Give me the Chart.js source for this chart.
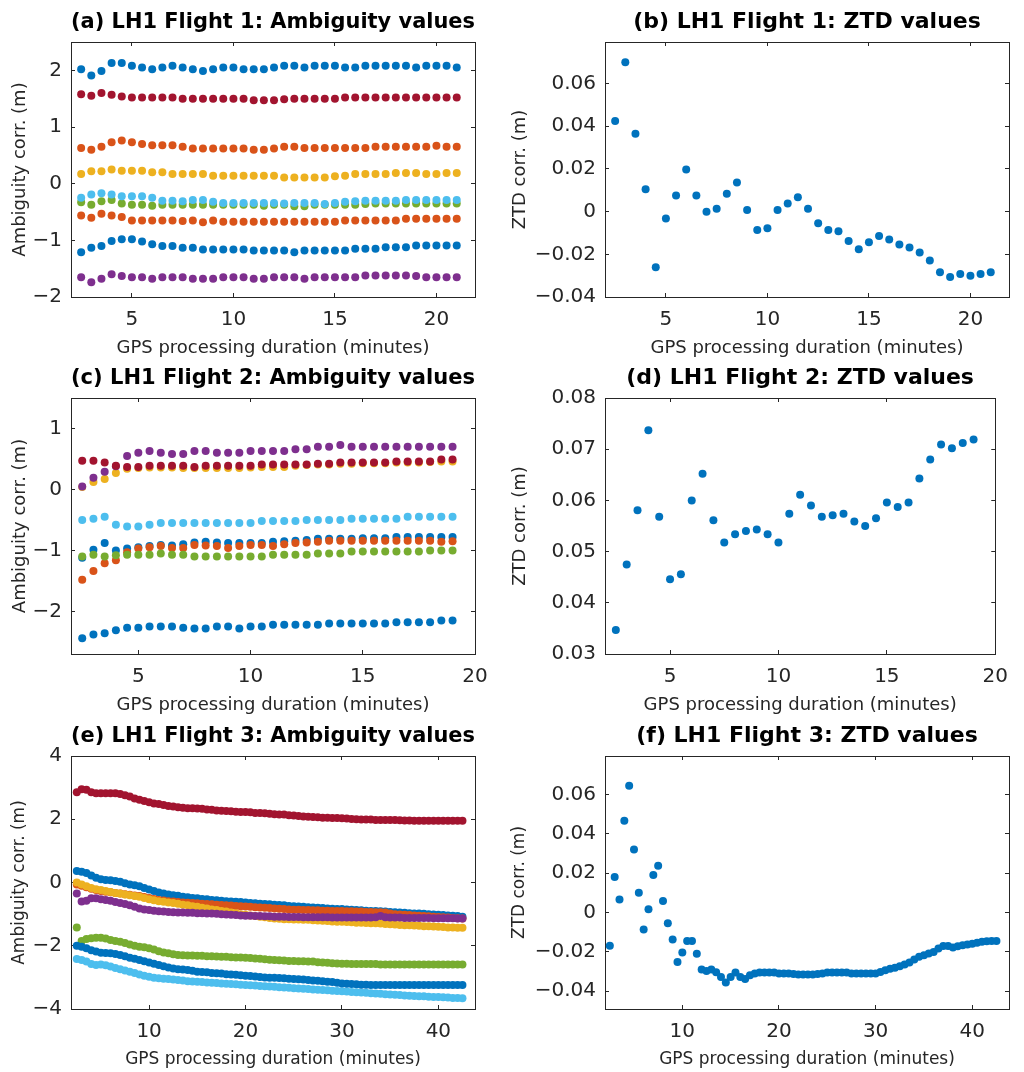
<!DOCTYPE html>
<html>
<head>
<meta charset="utf-8">
<script src="https://cdn.jsdelivr.net/npm/chart.js@4.4.1/dist/chart.umd.min.js"></script>
<style>
  body { margin: 0; background: #fff; }
  #page { position: relative; width: 1024px; height: 1072px; overflow: hidden; background: #fff; }
  #page canvas { position: absolute; }
</style>
</head>
<body>
<div id="page"></div>
<script>
// processing durations (minutes)
const minutesF1 = [2.5, 3, 3.5, 4, 4.5, 5, 5.5, 6, 6.5, 7, 7.5, 8, 8.5, 9, 9.5, 10, 10.5, 11, 11.5, 12,
  12.5, 13, 13.5, 14, 14.5, 15, 15.5, 16, 16.5, 17, 17.5, 18, 18.5, 19, 19.5, 20, 20.5, 21];
const minutesF2 = [2.5, 3, 3.5, 4, 4.5, 5, 5.5, 6, 6.5, 7, 7.5, 8, 8.5, 9, 9.5, 10, 10.5, 11, 11.5, 12,
  12.5, 13, 13.5, 14, 14.5, 15, 15.5, 16, 16.5, 17, 17.5, 18, 18.5, 19];
const minutesF3 = [2.5, 3, 3.5, 4, 4.5, 5, 5.5, 6, 6.5, 7,
  7.5, 8, 8.5, 9, 9.5, 10, 10.5, 11, 11.5, 12,
  12.5, 13, 13.5, 14, 14.5, 15, 15.5, 16, 16.5, 17,
  17.5, 18, 18.5, 19, 19.5, 20, 20.5, 21, 21.5, 22,
  22.5, 23, 23.5, 24, 24.5, 25, 25.5, 26, 26.5, 27,
  27.5, 28, 28.5, 29, 29.5, 30, 30.5, 31, 31.5, 32,
  32.5, 33, 33.5, 34, 34.5, 35, 35.5, 36, 36.5, 37,
  37.5, 38, 38.5, 39, 39.5, 40, 40.5, 41, 41.5, 42,
  42.5];

// (a) flight 1 ambiguities
const ambA1 = [2.02, 1.91, 1.99, 2.13, 2.13, 2.08, 2.05, 2.02, 2.05, 2.08,
  2.05, 2.02, 1.99, 2.02, 2.05, 2.05, 2.02, 2.02, 2.02, 2.05,
  2.08, 2.08, 2.05, 2.08, 2.08, 2.08, 2.05, 2.05, 2.08, 2.08,
  2.08, 2.08, 2.08, 2.05, 2.08, 2.08, 2.08, 2.05];
const ambA2 = [0.63, 0.60, 0.65, 0.73, 0.76, 0.73, 0.70, 0.68, 0.68, 0.68,
  0.65, 0.62, 0.62, 0.62, 0.62, 0.62, 0.62, 0.60, 0.60, 0.62,
  0.65, 0.65, 0.63, 0.63, 0.63, 0.63, 0.63, 0.63, 0.63, 0.65,
  0.65, 0.65, 0.65, 0.65, 0.65, 0.67, 0.65, 0.65];
const ambA3 = [0.17, 0.22, 0.22, 0.25, 0.23, 0.23, 0.23, 0.20, 0.20, 0.17,
  0.17, 0.17, 0.17, 0.14, 0.14, 0.14, 0.14, 0.14, 0.14, 0.14,
  0.11, 0.11, 0.11, 0.11, 0.11, 0.13, 0.14, 0.17, 0.17, 0.17,
  0.17, 0.19, 0.19, 0.19, 0.17, 0.17, 0.19, 0.19];
const ambA4 = [-1.65, -1.74, -1.68, -1.60, -1.63, -1.65, -1.65, -1.68, -1.65, -1.65,
  -1.65, -1.68, -1.68, -1.68, -1.65, -1.65, -1.65, -1.68, -1.68, -1.65,
  -1.65, -1.65, -1.68, -1.65, -1.65, -1.65, -1.65, -1.65, -1.62, -1.62,
  -1.62, -1.62, -1.62, -1.63, -1.65, -1.65, -1.65, -1.65];
const ambA5 = [-0.33, -0.37, -0.31, -0.29, -0.35, -0.37, -0.37, -0.39, -0.37, -0.37,
  -0.37, -0.37, -0.37, -0.37, -0.37, -0.37, -0.37, -0.37, -0.39, -0.37,
  -0.37, -0.40, -0.40, -0.37, -0.37, -0.37, -0.37, -0.37, -0.36, -0.35,
  -0.35, -0.35, -0.35, -0.35, -0.35, -0.35, -0.35, -0.35];
const ambA6 = [-0.25, -0.19, -0.17, -0.19, -0.22, -0.22, -0.22, -0.25, -0.30, -0.30,
  -0.31, -0.29, -0.29, -0.32, -0.34, -0.34, -0.34, -0.34, -0.34, -0.34,
  -0.35, -0.34, -0.34, -0.34, -0.36, -0.34, -0.32, -0.31, -0.30, -0.30,
  -0.30, -0.30, -0.29, -0.29, -0.29, -0.29, -0.29, -0.29];
const ambA7 = [1.58, 1.55, 1.60, 1.57, 1.54, 1.52, 1.52, 1.52, 1.52, 1.52,
  1.50, 1.50, 1.50, 1.50, 1.50, 1.50, 1.50, 1.47, 1.47, 1.47,
  1.49, 1.50, 1.50, 1.50, 1.50, 1.50, 1.52, 1.52, 1.52, 1.52,
  1.52, 1.52, 1.52, 1.52, 1.52, 1.52, 1.52, 1.52];
const ambA8 = [-1.21, -1.13, -1.10, -1.01, -0.98, -0.98, -1.02, -1.07, -1.10, -1.10,
  -1.13, -1.13, -1.16, -1.16, -1.16, -1.16, -1.16, -1.18, -1.18, -1.18,
  -1.18, -1.21, -1.18, -1.18, -1.18, -1.18, -1.18, -1.15, -1.15, -1.15,
  -1.12, -1.12, -1.12, -1.09, -1.09, -1.09, -1.09, -1.09];
const ambA9 = [-0.56, -0.60, -0.53, -0.56, -0.59, -0.65, -0.65, -0.65, -0.65, -0.65,
  -0.66, -0.65, -0.68, -0.65, -0.67, -0.67, -0.67, -0.67, -0.67, -0.67,
  -0.67, -0.67, -0.67, -0.67, -0.67, -0.67, -0.65, -0.65, -0.65, -0.65,
  -0.65, -0.65, -0.62, -0.62, -0.62, -0.62, -0.62, -0.62];

// (b) flight 1 ZTD
const ztdB = [0.0425, 0.0700, 0.0365, 0.0105, -0.0260, -0.0032, 0.0076, 0.0197, 0.0076, 0.0000,
  0.0014, 0.0084, 0.0137, 0.0008, -0.0086, -0.0078, 0.0008, 0.0038, 0.0068, 0.0014,
  -0.0054, -0.0086, -0.0092, -0.0137, -0.0176, -0.0144, -0.0114, -0.0130, -0.0154, -0.0168,
  -0.0192, -0.0229, -0.0284, -0.0306, -0.0292, -0.0300, -0.0292, -0.0284];

// (c) flight 2 ambiguities
const ambC1 = [-1.12, -0.99, -0.88, -1.00, -0.97, -0.95, -0.93, -0.91, -0.92, -0.90,
  -0.87, -0.86, -0.87, -0.88, -0.88, -0.88, -0.88, -0.86, -0.85, -0.84,
  -0.83, -0.81, -0.81, -0.81, -0.81, -0.80, -0.80, -0.80, -0.78, -0.78,
  -0.78, -0.78, -0.78, -0.78];
const ambC2 = [-1.48, -1.34, -1.21, -1.16, -1.03, -0.97, -0.95, -0.93, -0.96, -0.96,
  -0.91, -0.92, -0.93, -0.96, -0.93, -0.91, -0.91, -0.93, -0.90, -0.88,
  -0.87, -0.86, -0.84, -0.84, -0.84, -0.84, -0.84, -0.84, -0.84, -0.84,
  -0.84, -0.84, -0.86, -0.85];
const ambC3 = [0.04, 0.12, 0.17, 0.27, 0.34, 0.35, 0.36, 0.36, 0.36, 0.35,
  0.35, 0.35, 0.35, 0.35, 0.35, 0.36, 0.37, 0.37, 0.37, 0.39,
  0.40, 0.41, 0.41, 0.42, 0.42, 0.43, 0.43, 0.43, 0.44, 0.44,
  0.44, 0.45, 0.46, 0.46];
const ambC4 = [0.05, 0.19, 0.29, 0.38, 0.55, 0.60, 0.63, 0.60, 0.58, 0.58,
  0.63, 0.63, 0.60, 0.60, 0.60, 0.63, 0.63, 0.63, 0.63, 0.66,
  0.66, 0.70, 0.70, 0.73, 0.70, 0.70, 0.70, 0.70, 0.70, 0.70,
  0.70, 0.70, 0.70, 0.70];
const ambC5 = [-1.10, -1.07, -1.10, -1.08, -1.07, -1.07, -1.07, -1.05, -1.07, -1.07,
  -1.10, -1.10, -1.10, -1.10, -1.10, -1.10, -1.10, -1.07, -1.07, -1.07,
  -1.07, -1.05, -1.05, -1.05, -1.02, -1.02, -1.02, -1.02, -1.02, -1.02,
  -1.02, -1.00, -1.00, -1.00];
const ambC6 = [-0.50, -0.48, -0.45, -0.58, -0.61, -0.61, -0.58, -0.55, -0.55, -0.55,
  -0.55, -0.55, -0.55, -0.55, -0.55, -0.55, -0.52, -0.52, -0.52, -0.52,
  -0.50, -0.50, -0.50, -0.50, -0.48, -0.48, -0.48, -0.48, -0.48, -0.45,
  -0.45, -0.45, -0.45, -0.45];
const ambC7 = [0.47, 0.47, 0.44, 0.39, 0.37, 0.37, 0.39, 0.39, 0.39, 0.39,
  0.37, 0.39, 0.39, 0.39, 0.39, 0.39, 0.41, 0.41, 0.41, 0.41,
  0.41, 0.42, 0.42, 0.44, 0.44, 0.44, 0.44, 0.44, 0.46, 0.46,
  0.46, 0.46, 0.49, 0.49];
const ambC8 = [-2.44, -2.38, -2.36, -2.31, -2.27, -2.27, -2.25, -2.25, -2.25, -2.27,
  -2.28, -2.28, -2.25, -2.25, -2.28, -2.25, -2.25, -2.22, -2.22, -2.22,
  -2.22, -2.22, -2.20, -2.20, -2.20, -2.20, -2.20, -2.20, -2.18, -2.18,
  -2.18, -2.18, -2.15, -2.15];

// (d) flight 2 ZTD
const ztdD = [0.0347, 0.0475, 0.0581, 0.0737, 0.0568, 0.0446, 0.0456, 0.0600, 0.0652, 0.0561,
  0.0518, 0.0534, 0.0540, 0.0543, 0.0534, 0.0518, 0.0574, 0.0611, 0.0590, 0.0568,
  0.0571, 0.0574, 0.0559, 0.0550, 0.0565, 0.0596, 0.0587, 0.0596, 0.0643, 0.0680,
  0.0709, 0.0702, 0.0712, 0.0719];

// (e) flight 3 ambiguities
const ambE1 = [0.36, 0.34, 0.30, 0.22, 0.15, 0.10, 0.08, 0.07, 0.05, 0.02,
  -0.02, -0.06, -0.09, -0.12, -0.17, -0.22, -0.27, -0.32, -0.35, -0.38,
  -0.40, -0.42, -0.45, -0.47, -0.49, -0.50, -0.52, -0.53, -0.55, -0.56,
  -0.58, -0.59, -0.60, -0.61, -0.62, -0.63, -0.65, -0.66, -0.67, -0.68,
  -0.69, -0.70, -0.71, -0.72, -0.74, -0.75, -0.76, -0.77, -0.78, -0.79,
  -0.80, -0.81, -0.82, -0.83, -0.84, -0.84, -0.85, -0.86, -0.87, -0.88,
  -0.89, -0.90, -0.90, -0.91, -0.92, -0.93, -0.94, -0.95, -0.96, -0.97,
  -0.98, -0.98, -0.99, -1.00, -1.01, -1.02, -1.03, -1.04, -1.05, -1.06,
  -1.08];
const ambE2 = [-0.06, -0.10, -0.15, -0.20, -0.24, -0.27, -0.29, -0.31, -0.33, -0.35,
  -0.37, -0.39, -0.41, -0.43, -0.46, -0.49, -0.52, -0.55, -0.57, -0.59,
  -0.60, -0.62, -0.63, -0.64, -0.65, -0.66, -0.67, -0.68, -0.69, -0.70,
  -0.71, -0.72, -0.73, -0.74, -0.75, -0.76, -0.77, -0.78, -0.79, -0.80,
  -0.81, -0.82, -0.83, -0.84, -0.85, -0.86, -0.86, -0.87, -0.87, -0.88,
  -0.88, -0.89, -0.89, -0.90, -0.90, -0.90, -0.91, -0.91, -0.92, -0.92,
  -0.93, -0.93, -0.94, -0.94, -0.95, -0.98, -1.00, -1.01, -1.02, -1.03,
  -1.04, -1.05, -1.06, -1.07, -1.08, -1.09, -1.10, -1.11, -1.12, -1.13,
  -1.14];
const ambE3 = [0.00, -0.06, -0.12, -0.17, -0.21, -0.24, -0.27, -0.30, -0.33, -0.35,
  -0.38, -0.40, -0.43, -0.45, -0.49, -0.53, -0.56, -0.59, -0.61, -0.63,
  -0.65, -0.67, -0.70, -0.72, -0.75, -0.77, -0.80, -0.82, -0.85, -0.87,
  -0.90, -0.92, -0.95, -0.97, -1.00, -1.02, -1.04, -1.06, -1.08, -1.10,
  -1.12, -1.14, -1.15, -1.16, -1.16, -1.17, -1.17, -1.18, -1.18, -1.19,
  -1.20, -1.21, -1.22, -1.23, -1.24, -1.24, -1.25, -1.26, -1.27, -1.27,
  -1.28, -1.29, -1.29, -1.30, -1.31, -1.32, -1.33, -1.34, -1.35, -1.35,
  -1.36, -1.37, -1.38, -1.38, -1.39, -1.40, -1.41, -1.42, -1.42, -1.43,
  -1.43];
const ambE4 = [-0.35, -0.60, -0.58, -0.50, -0.50, -0.53, -0.55, -0.58, -0.62, -0.65,
  -0.68, -0.72, -0.77, -0.82, -0.85, -0.87, -0.89, -0.91, -0.92, -0.93,
  -0.94, -0.95, -0.95, -0.96, -0.96, -0.97, -0.97, -0.98, -0.98, -0.99,
  -1.00, -1.01, -1.02, -1.03, -1.04, -1.05, -1.05, -1.06, -1.06, -1.07,
  -1.07, -1.08, -1.08, -1.08, -1.09, -1.09, -1.09, -1.10, -1.10, -1.10,
  -1.10, -1.10, -1.10, -1.11, -1.11, -1.11, -1.11, -1.11, -1.11, -1.11,
  -1.11, -1.11, -1.10, -1.06, -1.10, -1.11, -1.11, -1.11, -1.12, -1.12,
  -1.12, -1.12, -1.12, -1.12, -1.13, -1.13, -1.13, -1.13, -1.13, -1.14,
  -1.14];
const ambE5 = [-1.42, -1.85, -1.79, -1.76, -1.75, -1.75, -1.77, -1.82, -1.85, -1.87,
  -1.91, -1.96, -2.00, -2.03, -2.05, -2.08, -2.12, -2.17, -2.21, -2.24,
  -2.27, -2.29, -2.30, -2.31, -2.31, -2.32, -2.32, -2.33, -2.33, -2.34,
  -2.35, -2.35, -2.36, -2.37, -2.37, -2.38, -2.39, -2.40, -2.41, -2.43,
  -2.44, -2.45, -2.46, -2.47, -2.48, -2.48, -2.49, -2.49, -2.50, -2.50,
  -2.52, -2.53, -2.54, -2.55, -2.56, -2.57, -2.57, -2.58, -2.58, -2.58,
  -2.58, -2.58, -2.58, -2.59, -2.59, -2.59, -2.59, -2.59, -2.59, -2.59,
  -2.59, -2.59, -2.59, -2.59, -2.59, -2.59, -2.59, -2.59, -2.59, -2.59,
  -2.59];
const ambE6 = [-2.42, -2.45, -2.50, -2.58, -2.61, -2.59, -2.62, -2.66, -2.70, -2.74,
  -2.78, -2.82, -2.86, -2.91, -2.95, -2.98, -3.01, -3.03, -3.04, -3.05,
  -3.07, -3.08, -3.10, -3.12, -3.13, -3.14, -3.15, -3.16, -3.17, -3.18,
  -3.19, -3.20, -3.21, -3.22, -3.23, -3.24, -3.25, -3.26, -3.27, -3.28,
  -3.29, -3.30, -3.31, -3.32, -3.33, -3.34, -3.35, -3.36, -3.37, -3.38,
  -3.39, -3.40, -3.41, -3.42, -3.43, -3.44, -3.45, -3.46, -3.47, -3.48,
  -3.49, -3.50, -3.51, -3.52, -3.53, -3.54, -3.55, -3.56, -3.57, -3.58,
  -3.59, -3.60, -3.60, -3.61, -3.62, -3.62, -3.63, -3.64, -3.65, -3.65,
  -3.66];
const ambE7 = [2.85, 2.95, 2.93, 2.85, 2.82, 2.82, 2.82, 2.82, 2.82, 2.80,
  2.76, 2.72, 2.66, 2.62, 2.58, 2.54, 2.50, 2.48, 2.45, 2.42,
  2.40, 2.38, 2.36, 2.35, 2.35, 2.34, 2.33, 2.31, 2.30, 2.28,
  2.27, 2.26, 2.25, 2.24, 2.23, 2.23, 2.22, 2.20, 2.20, 2.19,
  2.17, 2.16, 2.15, 2.15, 2.13, 2.12, 2.10, 2.09, 2.08, 2.07,
  2.06, 2.05, 2.05, 2.04, 2.04, 2.03, 2.02, 2.01, 2.00, 1.99,
  1.99, 1.99, 1.98, 1.98, 1.98, 1.98, 1.98, 1.97, 1.96, 1.96,
  1.95, 1.95, 1.95, 1.95, 1.95, 1.95, 1.95, 1.95, 1.95, 1.95,
  1.95];
const ambE8 = [-2.00, -2.03, -2.08, -2.14, -2.18, -2.22, -2.23, -2.24, -2.26, -2.29,
  -2.33, -2.38, -2.41, -2.45, -2.49, -2.53, -2.57, -2.61, -2.65, -2.69,
  -2.72, -2.74, -2.75, -2.77, -2.79, -2.82, -2.83, -2.84, -2.86, -2.87,
  -2.88, -2.90, -2.91, -2.92, -2.93, -2.95, -2.96, -2.97, -2.99, -3.00,
  -3.01, -3.01, -3.02, -3.03, -3.04, -3.05, -3.06, -3.07, -3.08, -3.10,
  -3.11, -3.12, -3.14, -3.15, -3.17, -3.19, -3.20, -3.21, -3.22, -3.23,
  -3.23, -3.24, -3.24, -3.24, -3.24, -3.24, -3.24, -3.24, -3.24, -3.24,
  -3.24, -3.24, -3.24, -3.24, -3.24, -3.24, -3.24, -3.24, -3.24, -3.24,
  -3.24];

// (f) flight 3 ZTD
const ztdF = [-0.0169, 0.0181, 0.0066, 0.0466, 0.0644, 0.0320, 0.0100, -0.0086, 0.0017, 0.0190,
  0.0237, 0.0059, -0.0055, -0.0137, -0.0251, -0.0203, -0.0145, -0.0145, -0.0210, -0.0290,
  -0.0297, -0.0290, -0.0303, -0.0327, -0.0356, -0.0327, -0.0305, -0.0327, -0.0337, -0.0319,
  -0.0310, -0.0305, -0.0305, -0.0305, -0.0305, -0.0310, -0.0310, -0.0310, -0.0312, -0.0315,
  -0.0315, -0.0315, -0.0315, -0.0312, -0.0310, -0.0305, -0.0305, -0.0305, -0.0305, -0.0305,
  -0.0310, -0.0310, -0.0310, -0.0310, -0.0310, -0.0310, -0.0302, -0.0293, -0.0285, -0.0280,
  -0.0273, -0.0264, -0.0254, -0.0239, -0.0225, -0.0217, -0.0208, -0.0200, -0.0183, -0.0170,
  -0.0170, -0.0178, -0.0171, -0.0166, -0.0163, -0.0158, -0.0153, -0.0149, -0.0146, -0.0144,
  -0.0144];

// tick values
const xTicks20 = [5, 10, 15, 20];
const xTicks40 = [10, 20, 30, 40];
const yTicksA = [-2, -1, 0, 1, 2];
const yTicksC = [-2, -1, 0, 1];
const yTicksE = [-4, -2, 0, 2, 4];
const yTicksZtd1 = [-0.04, -0.02, 0, 0.02, 0.04, 0.06];
const yTicksZtd2 = [0.03, 0.04, 0.05, 0.06, 0.07, 0.08];

// matlab default colour order
const BLUE = "#0072BD", ORANGE = "#D95319", YELLOW = "#EDB120", PURPLE = "#7E2F8E",
  GREEN = "#77AC30", CYAN = "#4DBEEE", RED = "#A2142F";
const AXIS = "#262626";

Chart.defaults.font.family = "'DejaVu Sans', sans-serif";
Chart.defaults.color = AXIS;

const xLabel = "GPS processing duration (minutes)";

const panels = [
  { top: 42, bottom: 297, col: 0, minutes: minutesF1, xMin: 2, xMax: 21.9, yMin: -2, yMax: 2.5,
    xTicks: xTicks20, yTicks: yTicksA, labelSize: 18,
    title: "(a) LH1 Flight 1: Ambiguity values", yLabel: "Ambiguity corr. (m)",
    series: [[ambA1, BLUE], [ambA2, ORANGE], [ambA3, YELLOW], [ambA4, PURPLE], [ambA5, GREEN],
      [ambA6, CYAN], [ambA7, RED], [ambA8, BLUE], [ambA9, ORANGE]] },
  { top: 42, bottom: 297, col: 1, minutes: minutesF1, xMin: 2, xMax: 21.9, yMin: -0.04, yMax: 0.0795,
    xTicks: xTicks20, yTicks: yTicksZtd1, labelSize: 18,
    title: "(b) LH1 Flight 1: ZTD values", yLabel: "ZTD corr. (m)",
    series: [[ztdB, BLUE]] },
  { top: 398, bottom: 654, col: 0, minutes: minutesF2, xMin: 2, xMax: 20, yMin: -2.7, yMax: 1.5,
    xTicks: xTicks20, yTicks: yTicksC, labelSize: 18,
    title: "(c) LH1 Flight 2: Ambiguity values", yLabel: "Ambiguity corr. (m)",
    series: [[ambC1, BLUE], [ambC2, ORANGE], [ambC3, YELLOW], [ambC4, PURPLE], [ambC5, GREEN],
      [ambC6, CYAN], [ambC7, RED], [ambC8, BLUE]] },
  { top: 398, bottom: 654, col: 1, minutes: minutesF2, xMin: 2, xMax: 20, yMin: 0.03, yMax: 0.08,
    xTicks: xTicks20, yTicks: yTicksZtd2, labelSize: 18,
    title: "(d) LH1 Flight 2: ZTD values", yLabel: "ZTD corr. (m)",
    series: [[ztdD, BLUE]] },
  { top: 756, bottom: 1009, col: 0, minutes: minutesF3, xMin: 1.9, xMax: 43.8, yMin: -4, yMax: 4,
    xTicks: xTicks40, yTicks: yTicksE, labelSize: 17,
    title: "(e) LH1 Flight 3: Ambiguity values", yLabel: "Ambiguity corr. (m)",
    series: [[ambE1, BLUE], [ambE2, ORANGE], [ambE3, YELLOW], [ambE4, PURPLE], [ambE5, GREEN],
      [ambE6, CYAN], [ambE7, RED], [ambE8, BLUE]] },
  { top: 756, bottom: 1009, col: 1, minutes: minutesF3, xMin: 2, xMax: 43.8, yMin: -0.049, yMax: 0.0795,
    xTicks: xTicks40, yTicks: yTicksZtd1, labelSize: 17,
    title: "(f) LH1 Flight 3: ZTD values", yLabel: "ZTD corr. (m)",
    series: [[ztdF, BLUE]] }
];

// column geometry: canvas left/width, plot box left/right
const columns = [
  { left: 0, width: 512, plotLeft: 71, plotRight: 475 },
  { left: 500, width: 524, plotLeft: 605, plotRight: 1009 }
];

const TITLE_H = 42, XAXIS_H = 62, TICK_LEN = -4;

function fmtTick(v) {
  return String(v).replace("-", "\u2212");
}

function axis(position, min, max, ticks, size, opts) {
  return Object.assign({
    type: "linear",
    axis: position === "bottom" || position === "top" ? "x" : "y",
    position: position,
    min: min,
    max: max,
    afterBuildTicks: (s) => { s.ticks = ticks.map((v) => ({ value: v })); },
    afterFit: (s) => {
      if (s.isHorizontal()) s.height = size; else s.width = size;
    },
    grid: { drawOnChartArea: false, drawTicks: true, tickLength: TICK_LEN, color: AXIS, lineWidth: 1 },
    border: { display: true, color: AXIS, width: 1 },
    ticks: { display: false }
  }, opts || {});
}

const page = document.getElementById("page");

panels.forEach((p) => {
  const c = columns[p.col];
  const canvas = document.createElement("canvas");
  const h = p.bottom - p.top + TITLE_H + XAXIS_H;
  canvas.width = c.width;
  canvas.height = h;
  canvas.style.left = c.left + "px";
  canvas.style.top = (p.top - TITLE_H) + "px";
  canvas.style.width = c.width + "px";
  canvas.style.height = h + "px";
  page.appendChild(canvas);

  const n = p.series.length;
  const datasets = p.series.map(([vals, color], i) => ({
    data: p.minutes.map((m, k) => ({ x: m, y: vals[k] })),
    backgroundColor: color,
    borderWidth: 0,
    pointRadius: 4,
    pointHoverRadius: 4,
    order: n - i // later series on top, as in matlab
  }));

  const tickFont = { size: 20, lineHeight: "22px" };
  const labelFont = { size: p.labelSize, lineHeight: "20px" };

  new Chart(canvas, {
    type: "scatter",
    data: { datasets: datasets },
    options: {
      responsive: false,
      animation: false,
      events: [],
      devicePixelRatio: 1,
      layout: { padding: 0 },
      plugins: {
        legend: { display: false },
        tooltip: { enabled: false },
        title: {
          display: true,
          text: p.title,
          fullSize: false,
          color: "#000",
          font: { size: 22, weight: "bold", lineHeight: "24px" },
          padding: { top: 10, bottom: 8 }
        }
      },
      scales: {
        x: axis("bottom", p.xMin, p.xMax, p.xTicks, XAXIS_H, {
          ticks: { display: true, padding: 16, font: tickFont, color: AXIS, maxRotation: 0, callback: fmtTick },
          title: { display: true, text: xLabel, color: AXIS, font: labelFont, padding: { top: 0, bottom: 1 } }
        }),
        x2: axis("top", p.xMin, p.xMax, p.xTicks, 0),
        y: axis("left", p.yMin, p.yMax, p.yTicks, c.plotLeft - c.left, {
          ticks: { display: true, padding: 13, font: tickFont, color: AXIS, callback: fmtTick },
          title: { display: true, text: p.yLabel, color: AXIS, font: labelFont, padding: { top: 10, bottom: 0 } }
        }),
        y2: axis("right", p.yMin, p.yMax, p.yTicks, c.left + c.width - c.plotRight)
      }
    }
  });
});
</script>
</body>
</html>
